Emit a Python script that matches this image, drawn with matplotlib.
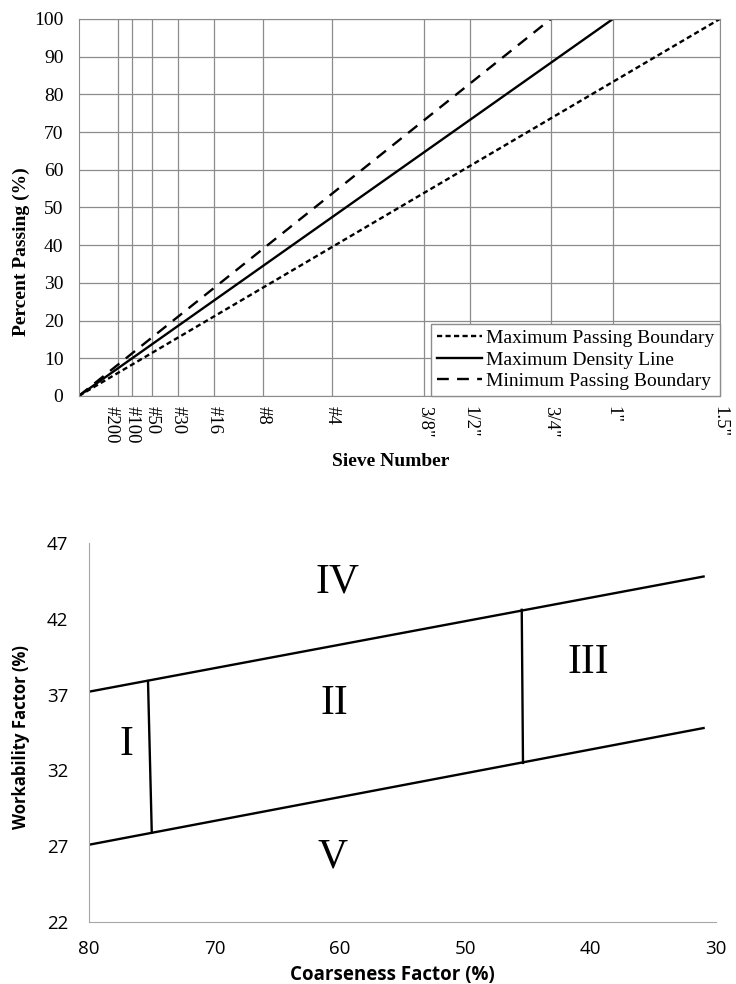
import numpy as np
import matplotlib.pyplot as plt
import matplotlib.transforms as mtransforms

# sieve sizes (mm) and labels for the 0.45 power chart
sieve_labels = ['#200', '#100', '#50', '#30', '#16', '#8', '#4', '3/8"', '1/2"', '3/4"', '1"', '1.5"']
sieve_mm = [0.075, 0.15, 0.3, 0.6, 1.18, 2.36, 4.75, 9.5, 12.5, 19.0, 25.0, 37.5]
power = 0.45

# max size (mm) where each line reaches 100 %
line_names = ['Maximum Passing Boundary', 'Maximum Density Line', 'Minimum Passing Boundary']
line_maxsize = [37.5, 25.0, 19.0]
line_pass = [0, 100]

# coarseness factor chart
cf_band = [80, 31]
wf_upper = [37.2, 44.8]
wf_lower = [27.1, 34.8]
div1_cf = [75.3, 75.0]
div1_wf = [37.9, 27.9]
div2_cf = [45.5, 45.4]
div2_wf = [42.6, 32.5]
zone_names = ['I', 'II', 'III', 'IV', 'V']
zone_cf = [77.0, 60.4, 40.2, 60.2, 60.6]
zone_wf = [33.7, 36.4, 39.1, 44.4, 26.3]

fig = plt.figure(figsize=(7.36, 9.84), dpi=100)
serif = 'Liberation Serif'
grey = '#8c8c8c'

# ---- top chart
ax1 = fig.add_axes([0.107, 0.5976, 0.871, 0.3831])
xp = np.power(sieve_mm, power)
styles = [(0, (2.2, 1.4)), '-', (0, (5, 3.5))]
for name, dmax, ls in zip(line_names, line_maxsize, styles):
    ax1.plot([0, dmax ** power], line_pass, color='black', ls=ls, lw=1.7, label=name)
ax1.set_xlim(0, 37.5 ** power)
ax1.set_ylim(0, 100)
ax1.set_yticks(range(0, 101, 10))
ax1.set_xticks(xp)
ax1.set_xticklabels(sieve_labels, rotation=270, va='top', ha='center')
ax1.tick_params(length=0, labelsize=14)
ax1.tick_params(axis='x', pad=7, labelsize=13.5)
ax1.tick_params(axis='y', pad=11)
for lab in ax1.get_xticklabels() + ax1.get_yticklabels():
    lab.set_fontfamily(serif)
# the first two labels crowd each other, push #200 a bit left like the original
lab0 = ax1.get_xticklabels()[0]
lab0.set_transform(lab0.get_transform() + mtransforms.ScaledTranslation(-0.07, 0, fig.dpi_scale_trans))
ax1.grid(True, color=grey, lw=0.9)
ax1.set_axisbelow(True)
for s in ax1.spines.values():
    s.set_color(grey)
ax1.set_ylabel('Percent Passing (%)', fontfamily=serif, fontweight='bold', fontsize=14)
ax1.yaxis.set_label_coords(-0.076, 0.382)
ax1.set_xlabel('Sieve Number', fontfamily=serif, fontweight='bold', fontsize=14)
ax1.xaxis.set_label_coords(0.487, -0.152)
leg = ax1.legend(loc='lower right', prop={'family': serif, 'size': 14}, fancybox=False,
                 framealpha=1, borderaxespad=0, handlelength=2.3, handletextpad=0.2,
                 labelspacing=0.2, borderpad=0.3)
leg.get_frame().set_edgecolor(grey)

# ---- bottom chart
ax2 = fig.add_axes([0.121, 0.063, 0.852, 0.385])
ax2.plot(cf_band, wf_upper, color='black', lw=1.7)
ax2.plot(cf_band, wf_lower, color='black', lw=1.7)
ax2.plot(div1_cf, div1_wf, color='black', lw=1.7)
ax2.plot(div2_cf, div2_wf, color='black', lw=1.7)
for name, cx, cy in zip(zone_names, zone_cf, zone_wf):
    ax2.text(cx, cy, name, fontfamily=serif, fontsize=30, ha='center', va='center')
ax2.set_xlim(80, 30)
ax2.set_ylim(22, 47)
ax2.set_xticks(range(80, 29, -10))
ax2.set_yticks(range(22, 48, 5))
ax2.tick_params(length=0, labelsize=13.5)
ax2.tick_params(axis='x', pad=13)
ax2.tick_params(axis='y', pad=15)
for lab in ax2.get_xticklabels() + ax2.get_yticklabels():
    lab.set_fontfamily('Open Sans')
ax2.spines['top'].set_visible(False)
ax2.spines['right'].set_visible(False)
ax2.spines['left'].set_color('#a6a6a6')
ax2.spines['bottom'].set_color('#a6a6a6')
ax2.set_xlabel('Coarseness Factor (%)', fontfamily='Open Sans', fontweight='bold', fontsize=13.5)
ax2.xaxis.set_label_coords(0.483, -0.113)
ax2.set_ylabel('Workability Factor (%)', fontfamily='Open Sans', fontweight='bold', fontsize=12)
ax2.yaxis.set_label_coords(-0.094, 0.487)

fig.savefig('out.png', dpi=100)
